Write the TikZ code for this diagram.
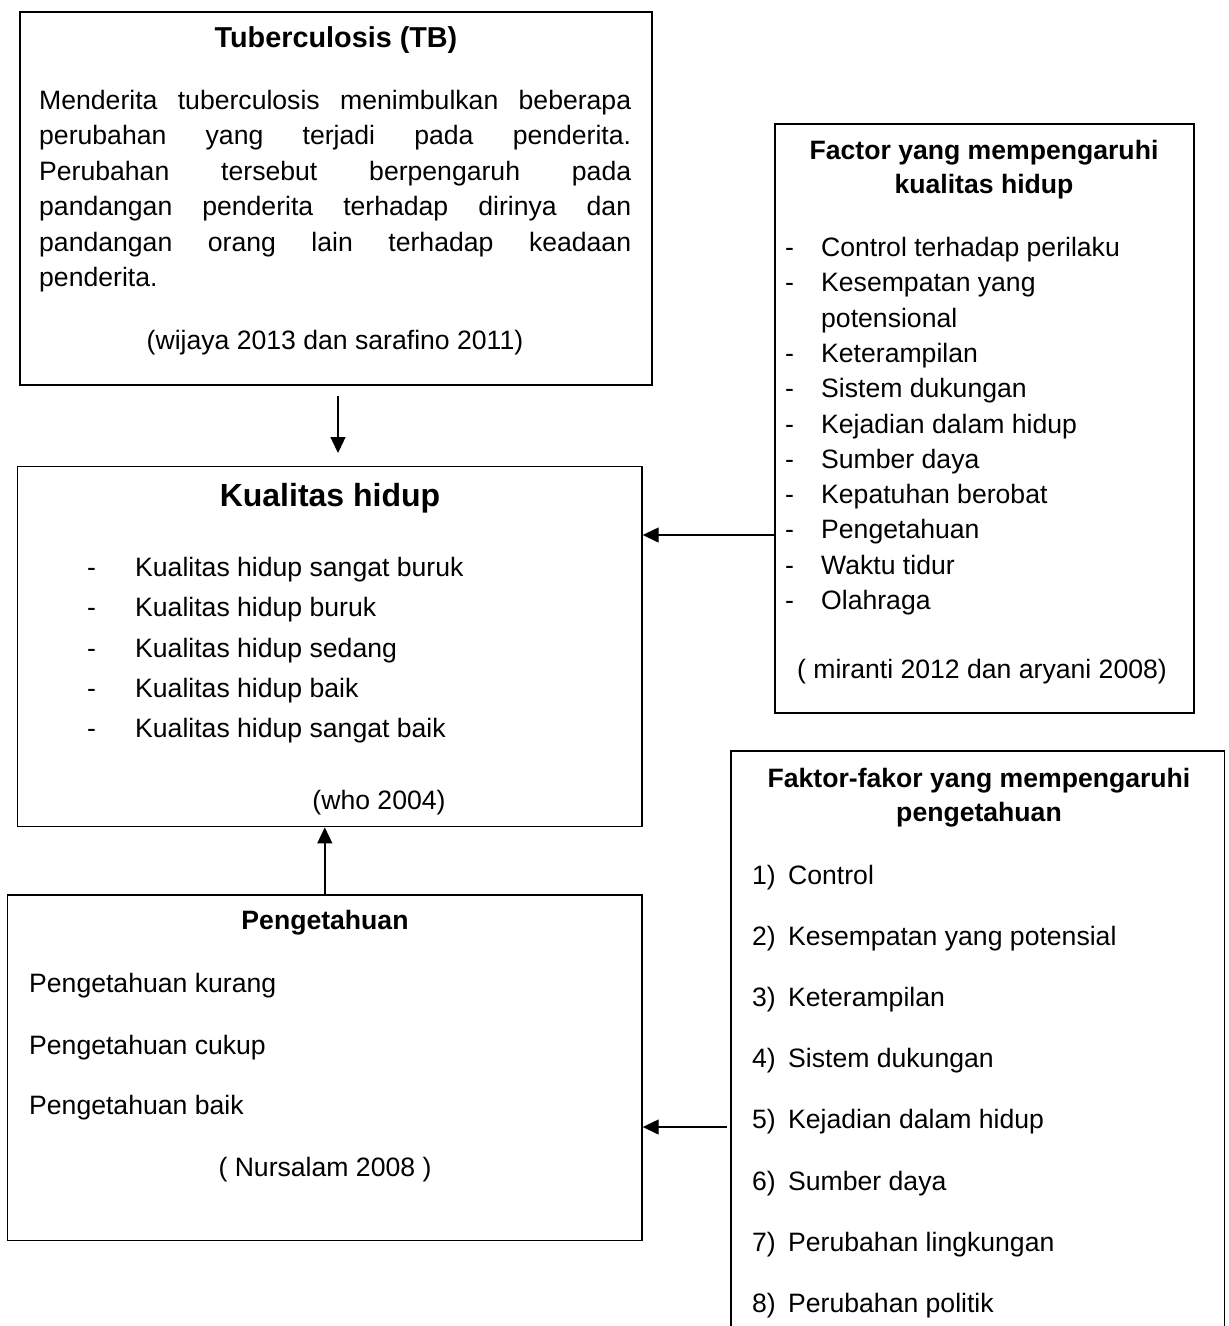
\documentclass[tikz,border=0pt]{standalone}
\usepackage{fontspec}
\setmainfont{Liberation Sans}
\usetikzlibrary{arrows.meta}
\begin{document}
\begin{tikzpicture}[x=1pt,y=-1pt,
  box/.style={draw, line width=1.4pt, inner sep=0pt},
  body/.style={font=\fontsize{26.6}{35}\selectfont, inner sep=0pt},
  ttl/.style={font=\fontsize{26.6}{35}\selectfont\bfseries, inner sep=0pt},
  arr/.style={line width=1.4pt, -{Triangle[length=16pt,width=15pt]}}]
\useasboundingbox (0,0) rectangle (1229,1326);

% boxes
\node[box, minimum width=632pt, minimum height=373pt] (tb) at (336,198.5) {};
\node[box, minimum width=624.5pt, minimum height=360pt] (kual) at (329.75,646.7) {};
\node[box, minimum width=634.4pt, minimum height=345.7pt] (peng) at (324.8,1067.85) {};
\node[box, minimum width=419pt, minimum height=589pt] (fac) at (984.5,418.5) {};
\node[box, minimum width=493.6pt, minimum height=609pt] (fk) at (977.8,1055.5) {};

% Tuberculosis box
\node[ttl, font=\fontsize{28.8}{35}\selectfont\bfseries, anchor=base] (tbT) at (336,47.3) {Tuberculosis (TB)};
\node[body, anchor=base west] (tb1) at (39,109.5) {\hbox to 592pt{Menderita\hfill tuberculosis\hfill menimbulkan\hfill beberapa}};
\node[body, anchor=base west] (tb2) at (39,144.9) {\hbox to 592pt{perubahan\hfill yang\hfill terjadi\hfill pada\hfill penderita.}};
\node[body, anchor=base west] (tb3) at (39,180.3) {\hbox to 592pt{Perubahan\hfill tersebut\hfill berpengaruh\hfill pada}};
\node[body, anchor=base west] (tb4) at (39,215.7) {\hbox to 592pt{pandangan\hfill penderita\hfill terhadap\hfill dirinya\hfill dan}};
\node[body, anchor=base west] (tb5) at (39,251.1) {\hbox to 592pt{pandangan\hfill orang\hfill lain\hfill terhadap\hfill keadaan}};
\node[body, anchor=base west] (tb6) at (39,286.5) {penderita.};
\node[body, anchor=base] (tbC) at (335,349.5) {(wijaya 2013 dan sarafino 2011)};

% Kualitas hidup box
\node[ttl, font=\fontsize{32}{38}\selectfont\bfseries, anchor=base] (kuT) at (330,506.5) {Kualitas hidup};
\foreach [count=\i] \t/\yy in {Kualitas hidup sangat buruk/567, Kualitas hidup buruk/607, Kualitas hidup sedang/647.5, Kualitas hidup baik/688, Kualitas hidup sangat baik/728}{
  \node[body, anchor=base west] (kud\i) at (87,\yy+9.5) {-};
  \node[body, anchor=base west] (ku\i) at (135,\yy+9.5) {\t};
}
\node[body, anchor=base] (kuC) at (379,809.5) {(who 2004)};

% Pengetahuan box
\node[ttl, anchor=base] (pgT) at (325,929.5) {Pengetahuan};
\node[body, anchor=base west] (pg1) at (29,992.5) {Pengetahuan kurang};
\node[body, anchor=base west] (pg2) at (29,1054.5) {Pengetahuan cukup};
\node[body, anchor=base west] (pg3) at (29,1114.5) {Pengetahuan baik};
\node[body, anchor=base] (pgC) at (325,1176.5) {( Nursalam 2008 )};

% Factor box
\node[ttl, anchor=base] (faT1) at (984,159) {Factor yang mempengaruhi};
\node[ttl, anchor=base] (faT2) at (984,193) {kualitas hidup};
\foreach [count=\i] \t in {Control terhadap perilaku, Kesempatan yang, potensional, Keterampilan, Sistem dukungan, Kejadian dalam hidup, Sumber daya, Kepatuhan berobat, Pengetahuan, Waktu tidur, Olahraga}{
  \node[body, anchor=base west] (fa\i) at (821,{256.5+35.3*(\i-1)}) {\t};
}
\foreach \i in {1,2,4,5,6,7,8,9,10,11}{
  \node[body, anchor=base west] (fad\i) at (785,{256.5+35.3*(\i-1)}) {-};
}
\node[body, anchor=base] (faC) at (982,678.5) {( miranti 2012 dan aryani 2008)};

% Faktor-fakor box
\node[ttl, anchor=base] (fkT1) at (979,787.5) {Faktor-fakor yang mempengaruhi};
\node[ttl, anchor=base] (fkT2) at (979,821.5) {pengetahuan};
\foreach [count=\i] \t in {Control, Kesempatan yang potensial, Keterampilan, Sistem dukungan, Kejadian dalam hidup, Sumber daya, Perubahan lingkungan, Perubahan politik}{
  \node[body, anchor=base west] (fkn\i) at (752,{884+61.2*(\i-1)}) {\i)};
  \node[body, anchor=base west] (fk\i) at (788,{884+61.2*(\i-1)}) {\t};
}

% connectors
\path (tb.south) ++(2,10) coordinate (a1s);
\path (a1s |- kual.north) ++(0,-13) coordinate (a1e);
\draw[arr] (a1s) -- (a1e);
\draw[arr] (peng.north) -- (peng.north |- kual.south);
\path (fac.west) ++(0,116.5) coordinate (a3s);
\draw[arr] (a3s) -- (a3s -| kual.east);
\path (fk.west) ++(-3,71.5) coordinate (a4s);
\draw[arr] (a4s) -- (a4s -| peng.east);
\end{tikzpicture}
\end{document}
